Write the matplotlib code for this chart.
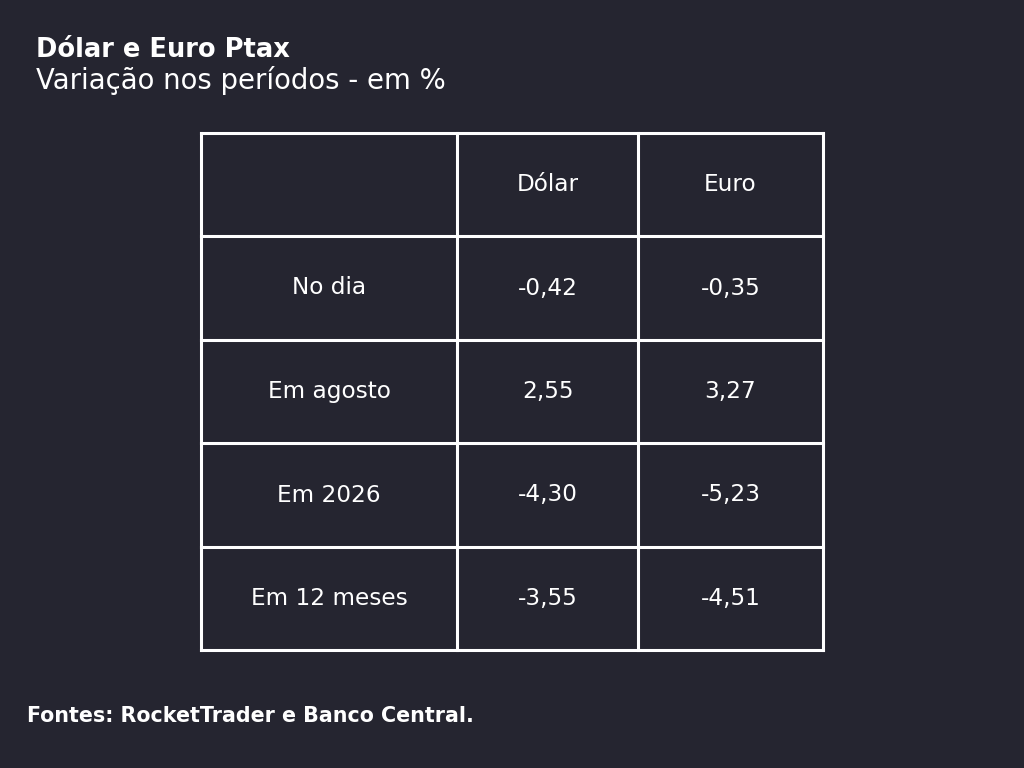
import matplotlib
matplotlib.use("Agg")
import matplotlib.pyplot as plt

title = "Dólar e Euro Ptax"
subtitle = "Variação nos períodos - em %"
source = "Fontes: RocketTrader e Banco Central."
columns = ["", "Dólar", "Euro"]
rows = ["No dia", "Em agosto", "Em 2026", "Em 12 meses"]
dolar = ["-0,42", "2,55", "-4,30", "-3,55"]
euro = ["-0,35", "3,27", "-5,23", "-4,51"]

BG = "#252530"
FONT = ["DejaVu Sans"]

fig = plt.figure(figsize=(10.24, 7.68), dpi=100, facecolor=BG)
ax = fig.add_axes([0, 0, 1, 1])
ax.set_xlim(0, 1024)
ax.set_ylim(768, 0)
ax.axis("off")
ax.set_facecolor(BG)

fig.text(36 / 1024, 1 - 57 / 768, title, color="white", fontsize=18.5, fontweight="bold",
         family=FONT, va="baseline", ha="left")
fig.text(36 / 1024, 1 - 89 / 768, subtitle, color="white", fontsize=19.8, fontweight="normal",
         family=FONT, va="baseline", ha="left")
fig.text(27 / 1024, 1 - 722 / 768, source, color="white", fontsize=14.9, fontweight="bold",
         family=FONT, va="baseline", ha="left")

col_edges = [201, 457, 638, 823]
row_edges = [133, 236, 340, 443, 547, 650]
lw = 2.2
for x in col_edges:
    ax.plot([x, x], [row_edges[0], row_edges[-1]], color="white", lw=lw, solid_capstyle="projecting")
for y in row_edges:
    ax.plot([col_edges[0], col_edges[-1]], [y, y], color="white", lw=lw, solid_capstyle="projecting")

table = [columns] + [[r, d, e] for r, d, e in zip(rows, dolar, euro)]
for i, row in enumerate(table):
    yc = (row_edges[i] + row_edges[i + 1]) / 2
    for j, val in enumerate(row):
        xc = (col_edges[j] + col_edges[j + 1]) / 2
        ax.text(xc, yc, val, color="white", fontsize=16.7, ha="center", va="center",
                family=FONT)

fig.savefig("out.png", dpi=100, facecolor=BG)
